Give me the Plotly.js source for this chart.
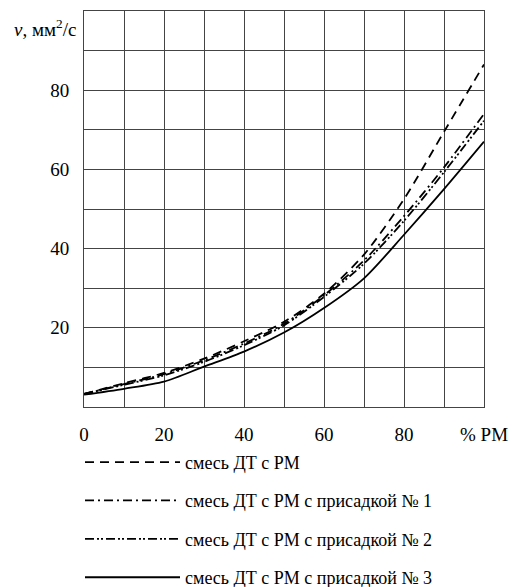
<!DOCTYPE html>
<html>
<head>
<meta charset="utf-8">
<script src="https://cdn.plot.ly/plotly-3.0.1.min.js"></script>
<style>html,body{margin:0;padding:0;background:#fff;}</style>
</head>
<body>
<div id="chart" style="width:523px;height:587px;"></div>
<script>
// x: % РМ in blend
const pctRM = [0, 10, 20, 30, 40, 50, 60, 70, 80, 90, 100];
// kinematic viscosity, мм²/с
const blendDT_RM = [3.3, 6.0, 8.6, 12.2, 16.6, 21.5, 28.6, 38.5, 52.5, 69.5, 86.5];
const blendAdd1  = [3.3, 5.8, 8.3, 11.8, 16.0, 21.0, 28.2, 37.0, 48.2, 60.5, 74.0];
const blendAdd2  = [3.3, 5.6, 8.0, 11.4, 15.6, 20.6, 27.8, 36.2, 47.0, 59.3, 72.3];
const blendAdd3  = [3.1, 4.6, 6.4, 10.2, 14.0, 18.8, 25.0, 32.5, 43.5, 55.0, 67.0];

const seriesNames = [
  'смесь ДТ с РМ',
  'смесь ДТ с РМ с присадкой № 1',
  'смесь ДТ с РМ с присадкой № 2',
  'смесь ДТ с РМ с присадкой № 3'
];
const xTickVals = [0, 10, 20, 30, 40, 50, 60, 70, 80, 90, 100];
const xTickText = ['0', '', '20', '', '40', '', '60', '', '80', '', '% РМ'];
const yTickVals = [0, 10, 20, 30, 40, 50, 60, 70, 80, 90, 100];
const yTickText = ['', '', '20', '', '40', '', '60', '', '80', '', ''];
const yAxisLabel = '<i>v</i>, мм<sup>2</sup>/с';

const FONT = 'Liberation Serif';
const dashes = ['9px,6px', '9px,4px,2px,4px', '9px,3px,2px,2px,2px,3px', 'solid'];
const series = [blendDT_RM, blendAdd1, blendAdd2, blendAdd3];

const traces = series.map((ys, i) => ({
  x: pctRM, y: ys, type: 'scatter', mode: 'lines',
  name: seriesNames[i], legendgroup: 'g' + i,
  line: {color: '#000', width: 1.8, dash: dashes[i], shape: 'spline', smoothing: 0.8}
}));

const axisCommon = {
  showline: true, mirror: true, linecolor: '#444', linewidth: 1,
  showgrid: true, gridcolor: '#444', gridwidth: 1, zeroline: false,
  tickmode: 'array', ticks: 'outside', tickcolor: 'rgba(0,0,0,0)',
  tickfont: {family: FONT, size: 19, color: '#000'}, fixedrange: true
};

const layout = {
  width: 523, height: 587,
  margin: {l: 84, r: 39, t: 11, b: 180, autoexpand: false},
  paper_bgcolor: '#fff', plot_bgcolor: '#fff',
  font: {family: FONT, color: '#000'},
  xaxis: Object.assign({}, axisCommon, {range: [0, 100], tickvals: xTickVals, ticktext: xTickText, ticklen: 10}),
  yaxis: Object.assign({}, axisCommon, {range: [0, 100], tickvals: yTickVals, ticktext: yTickText, ticklen: 10}),
  showlegend: true,
  legend: {
    x: -0.01, xanchor: 'left', y: -0.093, yanchor: 'top',
    font: {family: FONT, size: 18, color: '#000'},
    itemwidth: 95, traceorder: 'grouped', tracegroupgap: 12,
    bgcolor: 'rgba(0,0,0,0)', borderwidth: 0
  },
  annotations: [{
    xref: 'paper', yref: 'paper', x: 0, y: 1, xanchor: 'right', yanchor: 'top',
    xshift: -6, yshift: -3, showarrow: false, text: yAxisLabel,
    font: {family: FONT, size: 19, color: '#000'}
  }]
};

Plotly.newPlot('chart', traces, layout, {displayModeBar: false, staticPlot: true}).then(function () {
  // force the serif family on every svg text node
  document.querySelectorAll('#chart svg text').forEach(function (t) {
    t.style.fontFamily = '"Liberation Serif", "DejaVu Serif", serif';
  });
});
</script>
</body>
</html>
